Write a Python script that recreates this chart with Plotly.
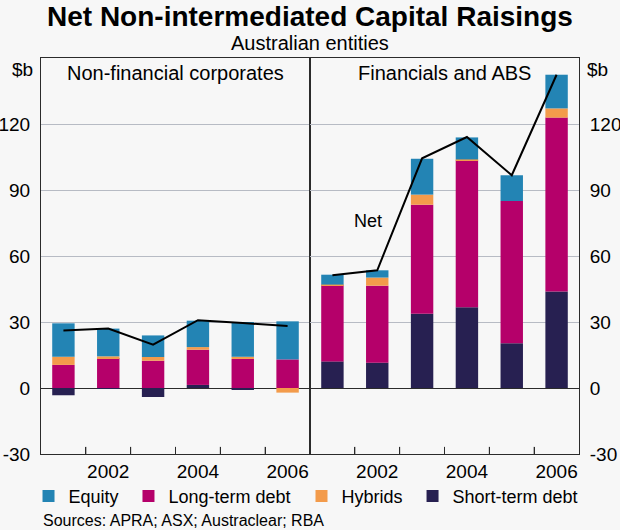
import plotly.graph_objects as go

years = [2001, 2002, 2003, 2004, 2005, 2006]

nfc_equity = [15.2, 12.6, 9.8, 12.0, 15.8, 17.3]
nfc_long_term = [10.5, 13.6, 12.4, 16.0, 13.2, 13.0]
nfc_hybrids = [3.7, 0.8, 1.7, 1.2, 1.0, -2.1]
nfc_short_term = [-3.3, -0.3, -4.1, 1.4, -0.9, 0.0]
nfc_net = [26.1, 27.0, 19.7, 30.8, 29.5, 28.2]

fin_equity = [4.5, 3.3, 16.3, 10.0, 11.7, 15.3]
fin_long_term = [34.6, 35.0, 49.5, 66.8, 64.7, 79.0]
fin_hybrids = [0.3, 3.7, 4.6, 0.4, 0.0, 4.2]
fin_short_term = [12.1, 11.5, 33.8, 36.7, 20.3, 43.9]
fin_net = [51.2, 53.5, 104.4, 114.1, 96.7, 142.4]

y_ticks = [-30, 0, 30, 60, 90, 120]
y_tick_labels = ["-30", "0", "30", "60", "90", "120"]
x_ticks = [2002, 2004, 2006]
x_tick_labels = ["2002", "2004", "2006"]
x_boundaries = [2001.5, 2002.5, 2003.5, 2004.5, 2005.5]

colors = {
    "Equity": "#2384b4",
    "Long-term debt": "#b5006a",
    "Hybrids": "#f39b4b",
    "Short-term debt": "#272051",
}
legend_of = {"Equity": "legend", "Long-term debt": "legend2",
             "Hybrids": "legend3", "Short-term debt": "legend4"}

FONT = "Liberation Sans, Arial, sans-serif"
DARK = "#2b2b2b"
GRID = "#b7bbc4"
BG = "#f7f7f7"

fig = go.Figure()

panels = [
    ("x", "x3", "y", nfc_short_term, nfc_long_term, nfc_hybrids, nfc_equity, nfc_net, True),
    ("x2", "x4", "y2", fin_short_term, fin_long_term, fin_hybrids, fin_equity, fin_net, False),
]
for xa, xl, ya, st, lt, hy, eq, net, show in panels:
    for name, vals in [("Short-term debt", st), ("Long-term debt", lt),
                       ("Hybrids", hy), ("Equity", eq)]:
        fig.add_trace(go.Bar(
            x=years, y=vals, name=name, xaxis=xa, yaxis=ya,
            marker=dict(color=colors[name], line=dict(width=0)),
            width=0.5, showlegend=show, legend=legend_of[name],
        ))
    fig.add_trace(go.Scatter(
        x=years, y=net, mode="lines", name="Net", xaxis=xl, yaxis=ya,
        line=dict(color="black", width=2), showlegend=False,
    ))

# frame axes carrying the boundary tick marks
xframe = dict(
    range=[2000.5, 2006.5], tickmode="array", tickvals=x_boundaries,
    showticklabels=False, automargin=False,
    ticks="inside", ticklen=7, tickcolor=DARK, tickwidth=1,
    showgrid=False, zeroline=False,
    showline=True, linecolor=DARK, linewidth=1, mirror=True,
)
# overlay axes carrying the year labels
xlabels = dict(
    range=[2000.5, 2006.5], tickmode="array", tickvals=x_ticks,
    ticktext=x_tick_labels, automargin=False, side="bottom",
    ticks="", showgrid=False, zeroline=False, showline=False,
    tickfont=dict(family=FONT, size=19, color="black"),
    ticklabelstandoff=4,
)
ycommon = dict(
    range=[-30, 150], tickmode="array", tickvals=y_ticks,
    ticktext=y_tick_labels, automargin=False,
    ticks="", showgrid=True, gridcolor=GRID, gridwidth=1,
    zeroline=True, zerolinecolor=DARK, zerolinewidth=1,
    showline=True, linecolor=DARK, linewidth=1, mirror=True,
    tickfont=dict(family=FONT, size=19, color="black"),
    ticklabelstandoff=6,
)

leg = dict(orientation="h", xanchor="left", y=-0.107, yanchor="middle",
           font=dict(family=FONT, size=18), bgcolor="rgba(0,0,0,0)")

fig.update_layout(
    width=620, height=530,
    margin=dict(l=41, r=41, t=58, b=76, autoexpand=False),
    paper_bgcolor=BG, plot_bgcolor=BG,
    barmode="relative",
    font=dict(family=FONT, color="black"),
    xaxis=dict(domain=[0, 0.5], anchor="y", **xframe),
    xaxis2=dict(domain=[0.5, 1], anchor="y2", **xframe),
    xaxis3=dict(overlaying="x", anchor="y", **xlabels),
    xaxis4=dict(overlaying="x2", anchor="y2", **xlabels),
    yaxis=dict(anchor="x", side="left", **ycommon),
    yaxis2=dict(anchor="x2", side="right", **ycommon),
    legend=dict(x=-0.0232, **leg),
    legend2=dict(x=0.1626, **leg),
    legend3=dict(x=0.4842, **leg),
    legend4=dict(x=0.6906, **leg),
    showlegend=True,
)

# small inward tick marks at the year boundaries on the bottom frame
for xr, yr in [("x", "y domain"), ("x2", "y2 domain")]:
    for b in x_boundaries:
        fig.add_shape(type="line", xref=xr, yref=yr, x0=b, x1=b, y0=0, y1=0.018,
                      line=dict(color=DARK, width=1), layer="above")

annotations = [
    dict(text="<b>Net Non-intermediated Capital Raisings</b>", x=0.5, y=1.104,
         font=dict(size=28)),
    dict(text="Australian entities", x=0.5, y=1.037, font=dict(size=20)),
    dict(text="Non-financial corporates", x=0.25, y=0.962, font=dict(size=20)),
    dict(text="Financials and ABS", x=0.75, y=0.962, font=dict(size=20)),
    dict(text="$b", x=0, y=0.972, xanchor="right", xshift=-6, font=dict(size=19)),
    dict(text="$b", x=1, y=0.972, xanchor="left", xshift=6, font=dict(size=19)),
    dict(text="Sources: APRA; ASX; Austraclear; RBA", x=0, y=-0.167,
         xanchor="left", font=dict(size=16)),
]
for a in annotations:
    a.setdefault("xanchor", "center")
    fig.add_annotation(xref="paper", yref="paper", showarrow=False,
                       yanchor="middle", font_family=FONT, **a)

fig.add_annotation(text="Net", x=2001.8, y=76, xref="x4", yref="y2",
                   showarrow=False, font=dict(family=FONT, size=18))

fig.write_html("out.html", config={"displayModeBar": False},
               post_script="document.body.style.margin='0px';document.body.style.background='%s';" % BG)
